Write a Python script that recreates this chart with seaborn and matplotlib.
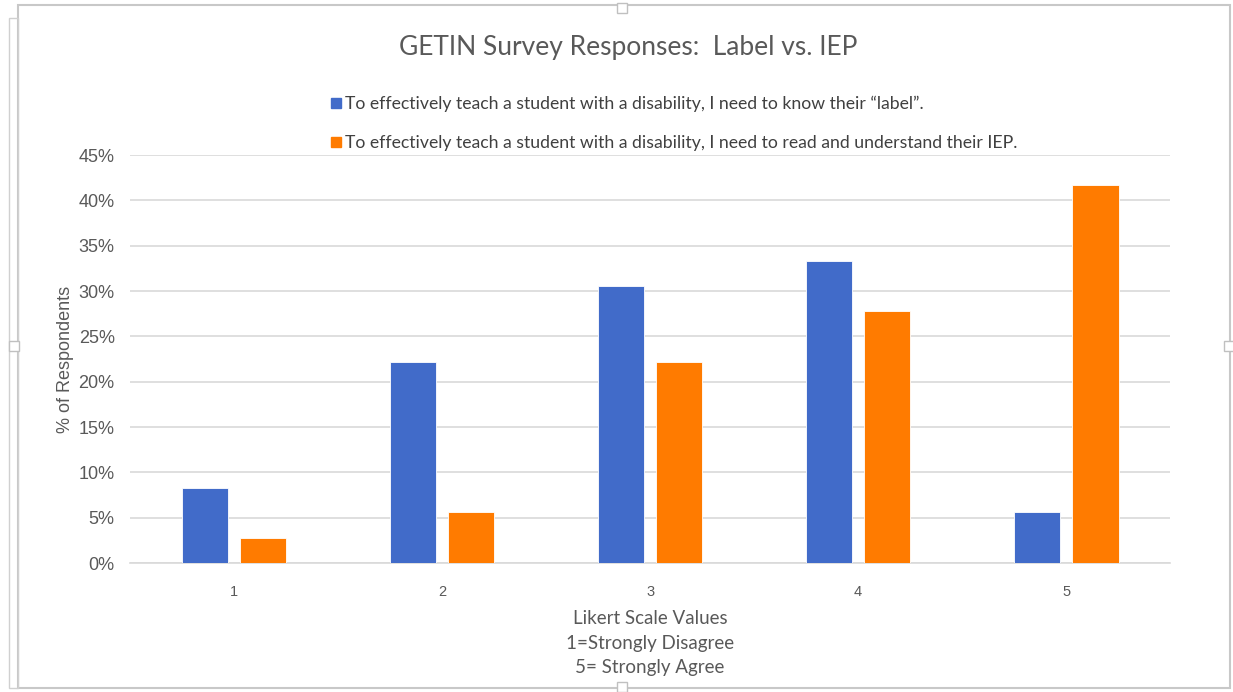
import pandas as pd
import numpy as np
import seaborn as sns
import matplotlib.pyplot as plt
from matplotlib.lines import Line2D
from matplotlib.patches import Rectangle

# values (% of respondents)
likert = ["1", "2", "3", "4", "5"]
label_pct = [8.3, 22.2, 30.6, 33.3, 5.6]
iep_pct = [2.8, 5.6, 22.2, 27.8, 41.7]
series_names = ["To effectively teach a student with a disability, I need to know their \u201clabel\u201d.",
                "To effectively teach a student with a disability, I need to read and understand their IEP."]
colors = ["#416BC9", "#FF7B00"]

df = pd.DataFrame({
    'Likert': likert * 2,
    'Pct': label_pct + iep_pct,
    'Series': [series_names[0]] * 5 + [series_names[1]] * 5,
})

sns.set_theme(style="white")
plt.rcParams['font.family'] = ['Liberation Sans', 'DejaVu Sans']

fig = plt.figure(figsize=(12.33, 6.92), dpi=100)
ax = fig.add_axes([0.1054, 0.1864, 0.8436, 0.5896])

sns.barplot(data=df, x='Likert', y='Pct', hue='Series', palette=colors, saturation=1,
            width=0.56, gap=0.2, ax=ax, legend=False, zorder=3, linewidth=0.6,
            edgecolor="white")

ax.set_ylim(0, 45)
ax.set_xlim(-0.5, 4.5)
ax.set_yticks(np.arange(0, 46, 5))
ax.set_yticklabels([f"{v}%" for v in range(0, 46, 5)], fontsize=13, color="#595959")
ax.set_xticklabels(likert, fontsize=10.5, color="#595959")
ax.tick_params(axis='y', length=0, pad=11)
ax.tick_params(axis='x', length=0, pad=16)
ax.yaxis.grid(True, color="#D9D9D9", linewidth=1.2, zorder=0)
for s in ['top', 'right', 'left']:
    ax.spines[s].set_visible(False)
ax.spines['bottom'].set_color("#D9D9D9")
ax.spines['bottom'].set_linewidth(1.2)

ax.set_ylabel("% of Respondents", fontsize=13, color="#595959", labelpad=3)
ax.set_xlabel("")

fig.text(650 / 1233, 1 - 643 / 692, "Likert Scale Values\n1=Strongly Disagree\n5= Strongly Agree",
         ha='center', va='center', fontsize=13.5, color="#595959",
         family=['Lato', 'DejaVu Sans'], linespacing=1.5)

fig.text(628 / 1233, 1 - 47 / 692, "GETIN Survey Responses:  Label vs. IEP", ha='center', va='center',
         fontsize=19, color="#595959", family=['Lato', 'DejaVu Sans'])

handles = [Line2D([0], [0], marker='s', linestyle='', markersize=7, markerfacecolor=c,
                  markeredgecolor=c) for c in colors]
fig.legend(handles, series_names, loc='upper left', bbox_to_anchor=(311 / 1233, 1 - 80 / 692),
           frameon=False, handletextpad=0.05, handlelength=1.0, labelspacing=1.3,
           prop={'family': ['Lato', 'DejaVu Sans'], 'size': 12.7}, labelcolor="#404040")

# window frame around the chart
fig.patches.append(Rectangle((18 / 1233, 4 / 692), 1212 / 1233, 683 / 692, transform=fig.transFigure,
                             fill=False, edgecolor="#C8C8C8", linewidth=1.5))
fig.patches.append(Rectangle((9 / 1233, 4 / 692), 9 / 1233, 670 / 692, transform=fig.transFigure,
                             fill=False, edgecolor="#D0D0D0", linewidth=1))
for (hx, hy) in [(622, 8), (14, 346), (1229, 346), (622, 687)]:
    fig.patches.append(Rectangle(((hx - 5) / 1233, 1 - (hy + 5) / 692), 10 / 1233, 10 / 692,
                                 transform=fig.transFigure, facecolor="white",
                                 edgecolor="#C0C0C0", linewidth=1, zorder=5))

fig.savefig("out.png", dpi=100)
